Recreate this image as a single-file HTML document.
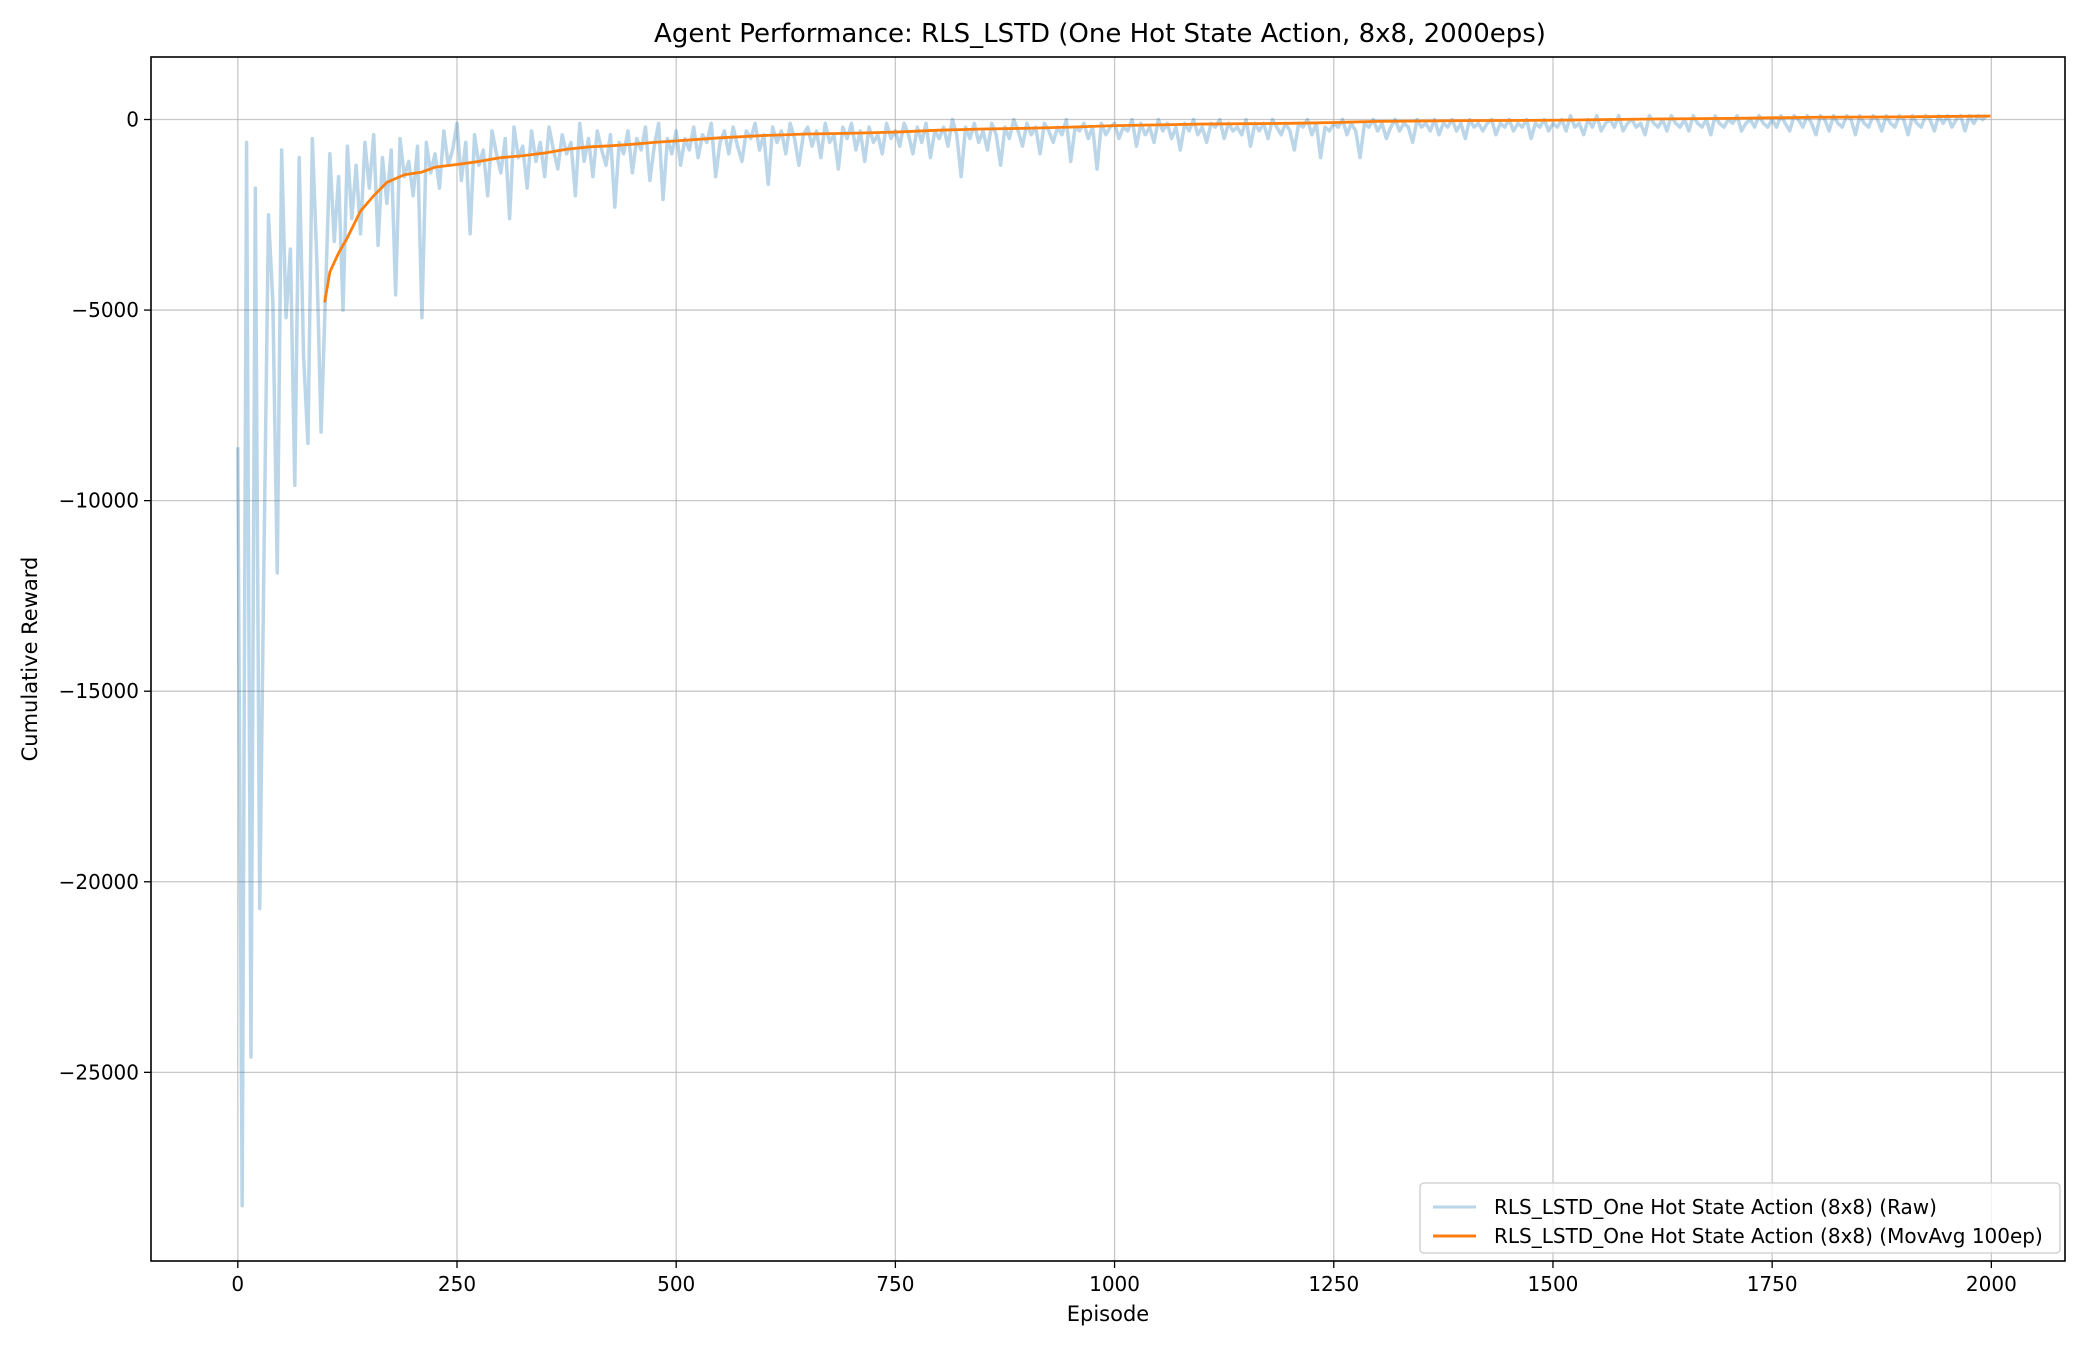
<!DOCTYPE html>
<html><head><meta charset="utf-8"><style>
html,body{margin:0;padding:0;background:#fff;}
svg text{font-family:"DejaVu Sans","Liberation Sans",sans-serif;fill:#000;}
</style></head><body>
<svg id="chart" width="2100" height="1350" viewBox="0 0 2100 1350" xmlns="http://www.w3.org/2000/svg">
<rect width="2100" height="1350" fill="#fff"/>
<text x="1100" y="42" font-size="26" text-anchor="middle">Agent Performance: RLS_LSTD (One Hot State Action, 8x8, 2000eps)</text>
<g id="grid"></g>
<g id="series"></g>
<rect x="151" y="57" width="1914" height="1204" fill="none" stroke="#000" stroke-width="1.6"/>
<g id="ticks"></g>
<text x="1108" y="1321" font-size="21" text-anchor="middle">Episode</text>
<text transform="translate(37,659) rotate(-90)" font-size="21" text-anchor="middle">Cumulative Reward</text>
<g>
<rect x="1420" y="1183" width="640" height="70" rx="4" fill="#fff" fill-opacity="0.8" stroke="#ccc" stroke-width="1.3"/>
<line x1="1433" y1="1207" x2="1476" y2="1207" stroke="#1f77b4" stroke-opacity="0.3" stroke-width="3"/>
<text x="1494" y="1214" font-size="20">RLS_LSTD_One Hot State Action (8x8) (Raw)</text>
<line x1="1433" y1="1236" x2="1476" y2="1236" stroke="#ff7f0e" stroke-width="3"/>
<text x="1494" y="1243" font-size="20">RLS_LSTD_One Hot State Action (8x8) (MovAvg 100ep)</text>
</g>
</svg>
<script>
const rawStep = 5;
const rawValues = [
-8600,-28500,-600,-24600,-1800,-20700,-11200,-2500,-4800,-11900,-800,-5200,-3400,-9600,-1000,-6200,-8500,-500,-3600,-8200,
-4600,-900,-3200,-1500,-5000,-700,-2600,-1200,-3000,-600,-1800,-400,-3300,-1000,-2200,-800,-4600,-500,-1500,-1100,-2000,-700,-5200,-600,-1400,-900,-1800,-300,-1200,-800,
-100,-1600,-600,-3000,-400,-1200,-800,-2000,-300,-900,-1400,-500,-2600,-200,-1000,-700,-1800,-300,-1100,-600,-1500,-200,-800,-1300,-400,-900,-600,-2000,-100,-1100,-500,-1500,-300,-800,-1200,-400,-2300,-600,-900,-300,-1400,-500,-800,-200,-1600,-700,-100,-2100,-500,-900,
-300,-1200,-500,-800,-200,-1000,-400,-600,-100,-1500,-600,-300,-900,-200,-700,-1100,-300,-500,-100,-800,-400,-1700,-200,-600,-300,-900,-100,-500,-1200,-400,-200,-700,-300,-1000,-100,-600,-400,-1300,-200,-500,-100,-800,-300,-1100,-200,-600,-400,-900,-100,-500,
-300,-700,-100,-400,-900,-200,-600,-100,-1000,-300,-500,-200,-700,0,-400,-1500,-200,-500,-100,-600,-300,-800,-100,-400,-1200,-200,-500,0,-300,-700,-100,-400,-200,-900,-100,-300,-600,-200,-400,0,-1100,-200,-300,-100,-500,-200,-1300,-100,-400,-200,
-100,-500,-200,-300,0,-700,-100,-400,-200,-600,0,-300,-100,-500,-200,-800,-100,-300,0,-400,-200,-600,-100,-200,0,-500,-100,-300,-200,-400,0,-700,-100,-300,-100,-500,0,-200,-400,-100,-300,-800,-100,-200,0,-400,-100,-1000,-200,-300,
-100,-200,0,-400,-100,-300,-1000,-100,-200,0,-300,-100,-500,-200,0,-300,-100,-200,-600,0,-200,-100,-300,0,-400,-100,-200,0,-300,-100,-500,0,-200,-100,-300,-100,0,-400,-100,-200,0,-300,-100,-200,0,-500,-100,-200,0,-300,
-100,-200,0,-300,100,-200,-100,-400,0,-200,100,-300,-100,0,-200,100,-300,-100,0,-200,-100,-400,100,-100,-200,0,-300,100,-100,-200,0,-300,100,-100,-200,0,-400,100,-100,-200,0,-100,100,-300,-100,0,-200,100,-100,-200,
0,-200,100,-100,-300,100,0,-200,100,-100,-400,100,0,-300,100,-100,-200,100,0,-400,100,-100,-200,100,0,-300,100,-100,-200,100,0,-400,100,-100,-200,100,0,-300,100,-100,100,-200,0,100,-300,100,-100,100,0,100
];
const avgEpisodes = [99,105,115,125,140,155,170,190,210,225,250,275,300,325,350,375,400,425,450,475,500,550,600,650,700,750,800,850,900,950,1000,1050,1100,1150,1200,1250,1300,1400,1500,1600,1700,1800,1900,1999];
const avgValues = [-4800,-4000,-3500,-3100,-2400,-2000,-1650,-1450,-1380,-1250,-1180,-1100,-1000,-950,-880,-780,-720,-690,-650,-600,-560,-480,-420,-380,-360,-330,-280,-250,-230,-200,-160,-140,-120,-110,-100,-80,-50,-30,-20,10,30,60,70,90];
const xTicks = [0,250,500,750,1000,1250,1500,1750,2000];
const yTicks = [0,-5000,-10000,-15000,-20000,-25000];

const L=151,R=2065,T=57,B=1261, XMIN=-99,XMAX=2084,YMIN=-29950,YMAX=1640;
const xs=v=>L+(v-XMIN)/(XMAX-XMIN)*(R-L);
const ys=v=>T+(YMAX-v)/(YMAX-YMIN)*(B-T);
const NS='http://www.w3.org/2000/svg';
function mk(tag,parent){const e=document.createElementNS(NS,tag);parent.appendChild(e);return e;}
const grid=document.getElementById('grid'),ticks=document.getElementById('ticks'),series=document.getElementById('series');
xTicks.forEach(t=>{
  const g=mk('line',grid);
  
  
  g.setAttribute('x1',xs(t));g.setAttribute('x2',xs(t));g.setAttribute('y1',T);g.setAttribute('y2',B);
  g.setAttribute('stroke','#b0b0b0');g.setAttribute('stroke-opacity','0.7');g.setAttribute('stroke-width','1.3');
  const k=mk('line',ticks);
  
  
  k.setAttribute('x1',xs(t));k.setAttribute('x2',xs(t));k.setAttribute('y1',B);k.setAttribute('y2',B+7);k.setAttribute('stroke','#000');k.setAttribute('stroke-width','1.3');
  const l=mk('text',ticks);
  
  
  l.setAttribute('x',xs(t));l.setAttribute('y',B+30);l.setAttribute('font-size','20');l.setAttribute('text-anchor','middle');
  l.textContent=String(t);
});
yTicks.forEach(t=>{
  const g=mk('line',grid);
  
  
  g.setAttribute('x1',L);g.setAttribute('x2',R);g.setAttribute('y1',ys(t));g.setAttribute('y2',ys(t));
  g.setAttribute('stroke','#b0b0b0');g.setAttribute('stroke-opacity','0.7');g.setAttribute('stroke-width','1.3');
  const k=mk('line',ticks);
  
  
  k.setAttribute('x1',L-7);k.setAttribute('x2',L);k.setAttribute('y1',ys(t));k.setAttribute('y2',ys(t));k.setAttribute('stroke','#000');k.setAttribute('stroke-width','1.3');
  const l=mk('text',ticks);
  
  
  l.setAttribute('x',L-12);l.setAttribute('y',ys(t)+7);l.setAttribute('font-size','20');l.setAttribute('text-anchor','end');
  l.textContent=t<0?'\u2212'+String(-t):String(t);
});
const raw=mk('polyline',series);


raw.setAttribute('points',rawValues.map((v,i)=>xs(i*rawStep)+','+ys(v)).join(' '));
raw.setAttribute('fill','none');raw.setAttribute('stroke','#1f77b4');raw.setAttribute('stroke-opacity','0.3');raw.setAttribute('stroke-width','3.5');raw.setAttribute('stroke-linejoin','round');
const avg=mk('polyline',series);


avg.setAttribute('points',avgValues.map((v,i)=>xs(avgEpisodes[i])+','+ys(v)).join(' '));
avg.setAttribute('fill','none');avg.setAttribute('stroke','#ff7f0e');avg.setAttribute('stroke-width','2.8');avg.setAttribute('stroke-linejoin','round');
</script>
</body></html>
